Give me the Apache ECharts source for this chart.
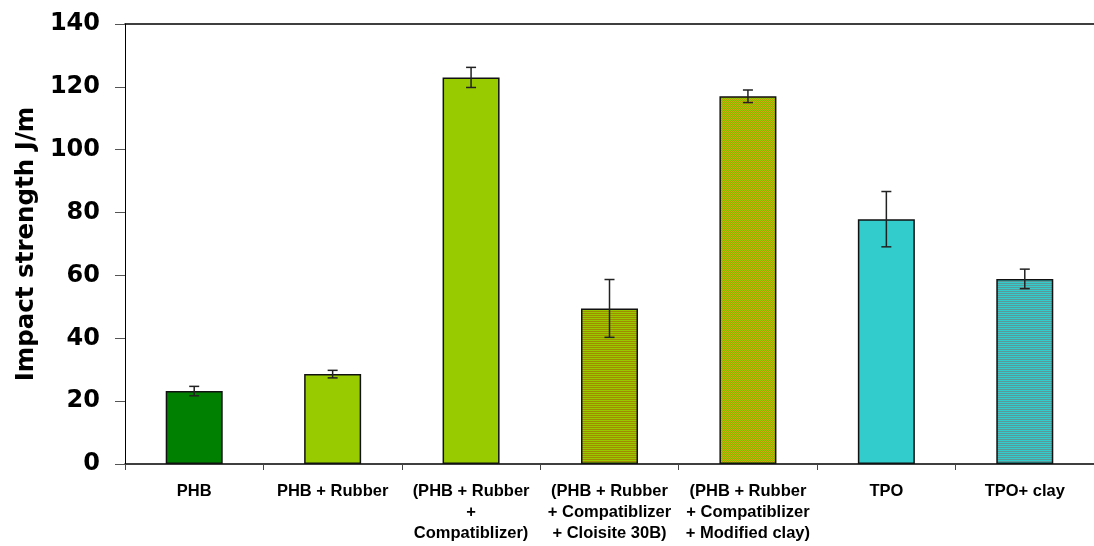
<!DOCTYPE html>
<html>
<head>
<meta charset="utf-8">
<script src="https://cdn.jsdelivr.net/npm/echarts@6/dist/echarts.min.js"></script>
<style>
html,body{margin:0;padding:0;background:#fff;}
#chart{width:1094px;height:546px;}
</style>
</head>
<body>
<div id="chart"></div>
<script>
// ---- data ----
const categories = [
  'PHB',
  'PHB + Rubber',
  '(PHB + Rubber\n+\nCompatiblizer)',
  '(PHB + Rubber\n+ Compatiblizer\n+ Cloisite 30B)',
  '(PHB + Rubber\n+ Compatiblizer\n+ Modified clay)',
  'TPO',
  'TPO+ clay'
];
const impactValues = [23.2, 28.6, 123.0, 49.5, 117.0, 77.9, 58.9];
const errorValues  = [1.5, 1.2, 3.2, 9.2, 2.0, 8.8, 3.1];
const yTicks = [0, 20, 40, 60, 80, 100, 120, 140];

// ---- styles ----
function stripePattern(c1, c2, mode) {
  const cv = document.createElement('canvas');
  cv.width = 2; cv.height = 2;
  const ctx = cv.getContext('2d');
  ctx.fillStyle = c1; ctx.fillRect(0, 0, 2, 2);
  ctx.fillStyle = c2;
  if (mode === 'rows') { ctx.fillRect(0, 1, 2, 1); }
  else { ctx.fillRect(1, 0, 1, 1); ctx.fillRect(0, 1, 1, 1); }
  return { image: cv, repeat: 'repeat' };
}
const barFills = [
  '#008000',
  '#99CC00',
  '#99CC00',
  stripePattern('#99CC00', '#A08C00', 'rows'),
  stripePattern('#99CC00', '#BA9A00', 'check'),
  '#33CCCC',
  stripePattern('#33CCCC', '#5A9A9A', 'rows')
];

const chart = echarts.init(document.getElementById('chart'), null, { renderer: 'canvas' });

const option = {
  animation: false,
  backgroundColor: '#ffffff',
  grid: { left: 125, right: -13, top: 24, bottom: 82, containLabel: false },
  xAxis: [{
    type: 'category',
    data: categories,
    position: 'bottom',
    axisLine: { lineStyle: { color: '#000', width: 1.5 } },
    axisTick: { show: true, length: 6, lineStyle: { color: '#444', width: 1 } },
    axisLabel: {
      interval: 0, margin: 17,
      fontFamily: 'Liberation Sans, Arial, sans-serif',
      fontWeight: 'bold', fontSize: 16.5, lineHeight: 21, color: '#000'
    }
  }, {
    type: 'category',
    data: categories,
    position: 'top',
    axisLine: { show: true, lineStyle: { color: '#000', width: 1.5 } },
    axisTick: { show: false },
    axisLabel: { show: false }
  }],
  yAxis: {
    type: 'value',
    min: yTicks[0], max: yTicks[yTicks.length - 1], interval: 20,
    name: 'Impact strength J/m',
    nameLocation: 'middle',
    nameGap: 86,
    nameTextStyle: {
      fontFamily: 'DejaVu Sans, sans-serif', fontWeight: 'bold', fontSize: 24.5, color: '#000'
    },
    axisLine: { show: true, lineStyle: { color: '#000', width: 1 } },
    axisTick: { show: true, length: 10, lineStyle: { color: '#555', width: 1 } },
    splitLine: { show: false },
    axisLabel: {
      margin: 25,
      fontFamily: 'DejaVu Sans, sans-serif', fontWeight: 'bold', fontSize: 24, color: '#000'
    }
  },
  series: [{
    type: 'bar',
    data: impactValues.map((v, i) => ({ value: v, itemStyle: { color: barFills[i] } })),
    barWidth: 57,
    itemStyle: { borderColor: '#111', borderWidth: 1.5 }
  }, {
    type: 'custom',
    data: impactValues.map((v, i) => [i, v - errorValues[i], v + errorValues[i]]),
    z: 10,
    renderItem: function (params, api) {
      const lo = api.coord([api.value(0), api.value(1)]);
      const hi = api.coord([api.value(0), api.value(2)]);
      const half = 5;
      const st = { stroke: '#222', lineWidth: 1.5 };
      return {
        type: 'group',
        children: [
          { type: 'line', shape: { x1: lo[0], y1: lo[1], x2: hi[0], y2: hi[1] }, style: st },
          { type: 'line', shape: { x1: hi[0] - half, y1: hi[1], x2: hi[0] + half, y2: hi[1] }, style: st },
          { type: 'line', shape: { x1: lo[0] - half, y1: lo[1], x2: lo[0] + half, y2: lo[1] }, style: st }
        ]
      };
    }
  }]
};
chart.setOption(option);
</script>
</body>
</html>
